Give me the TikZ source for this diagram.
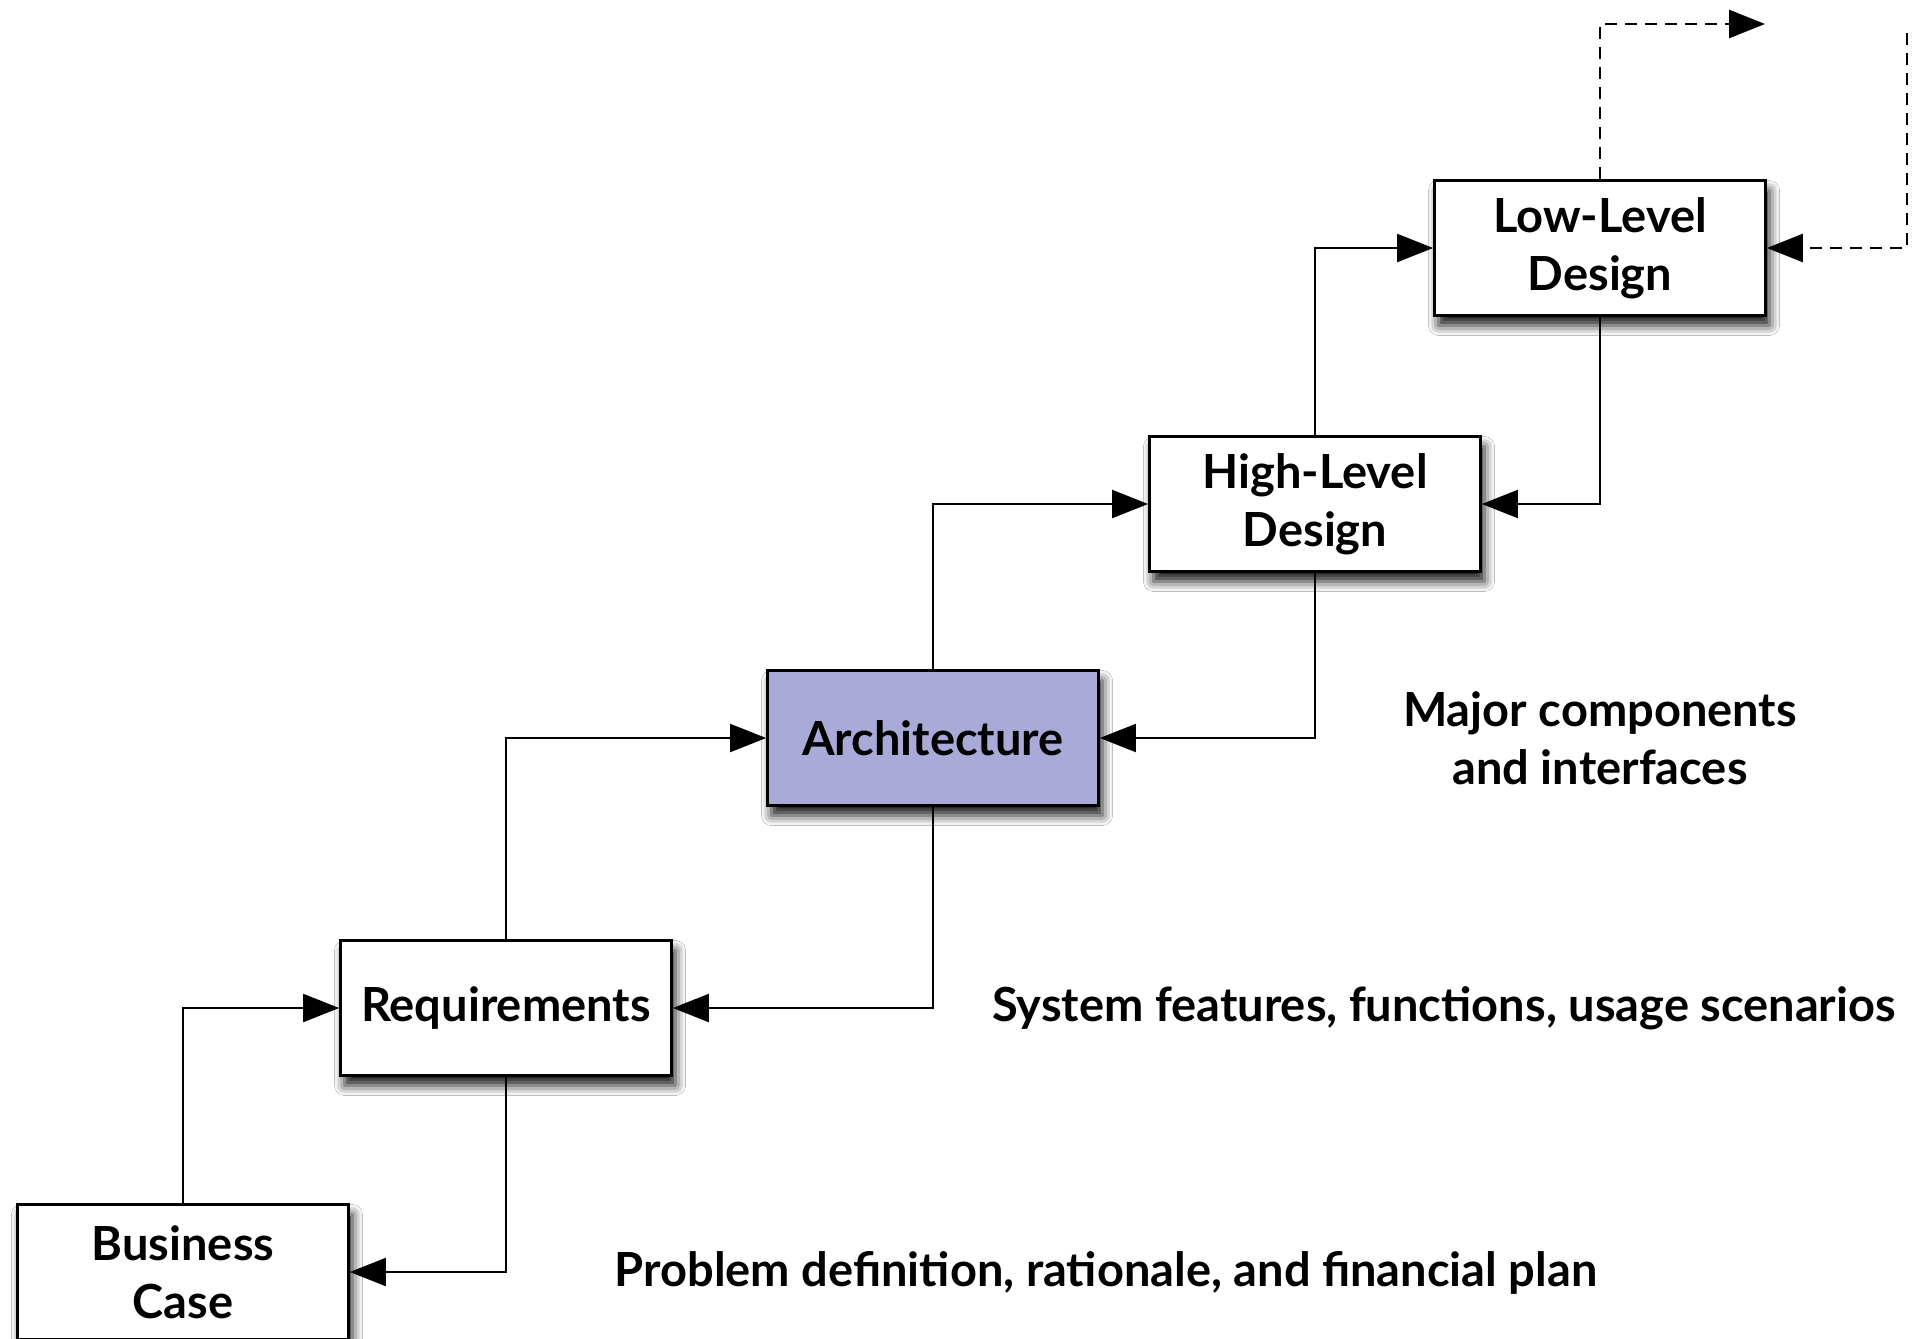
\documentclass[tikz,border=0pt]{standalone}
\usepackage{fontspec}
\setmainfont{Lato}
\usetikzlibrary{arrows.meta,shadows.blur}
\definecolor{archfill}{RGB}{169,170,215}
\begin{document}
\begin{tikzpicture}[x=1pt,y=-1pt,
  every node/.style={font=\bfseries\fontsize{47}{58}\selectfont},
  stage/.style={draw=black, line width=2.8pt, fill=white, minimum width=331pt,
    minimum height=135pt, inner sep=0pt, align=center,
    blur shadow={shadow xshift=4pt, shadow yshift=-10pt, shadow blur radius=10pt, shadow opacity=90}},
  conn/.style={line width=2.2pt, -{Triangle[length=36pt,width=28pt]}},
  dconn/.style={conn, line width=2.6pt, dash pattern=on 12pt off 8pt},
  note/.style={align=center, inner sep=0pt}]
\clip (0,0) rectangle (1915,1339);
\fill[white] (0,0) rectangle (1915,1339);

\node[stage] (bc)   at (183,1272) {Business\\Case};
\node[stage] (req)  at (506,1008) {Requirements};
\node[stage, fill=archfill] (arch) at (933,738) {Architecture};
\node[stage] (hld)  at (1315,504) {High-Level\\Design};
\node[stage] (lld)  at (1600,248) {Low-Level\\Design};

\coordinate (out) at (1765,24);
\coordinate (in) at (1907,33);

\draw[conn] (bc.north) |- (req.west);
\draw[conn] (req.south) |- (bc.east);
\draw[conn] (req.north) |- (arch.west);
\draw[conn] (arch.south) |- (req.east);
\draw[conn] (arch.north) |- (hld.west);
\draw[conn] (hld.south) |- (arch.east);
\draw[conn] (hld.north) |- (lld.west);
\draw[conn] (lld.south) |- (hld.east);
\draw[dconn] (lld.north) |- (out);
\draw[dconn] (in) |- (lld.east);

\node[note] (n1) at (1600,738) {Major components\\and interfaces};
\node[note] (n2) at (1444,1008) {System features, functions, usage scenarios};
\node[note] (n3) at (1106,1273) {Problem definition, rationale, and financial plan};
\end{tikzpicture}
\end{document}
